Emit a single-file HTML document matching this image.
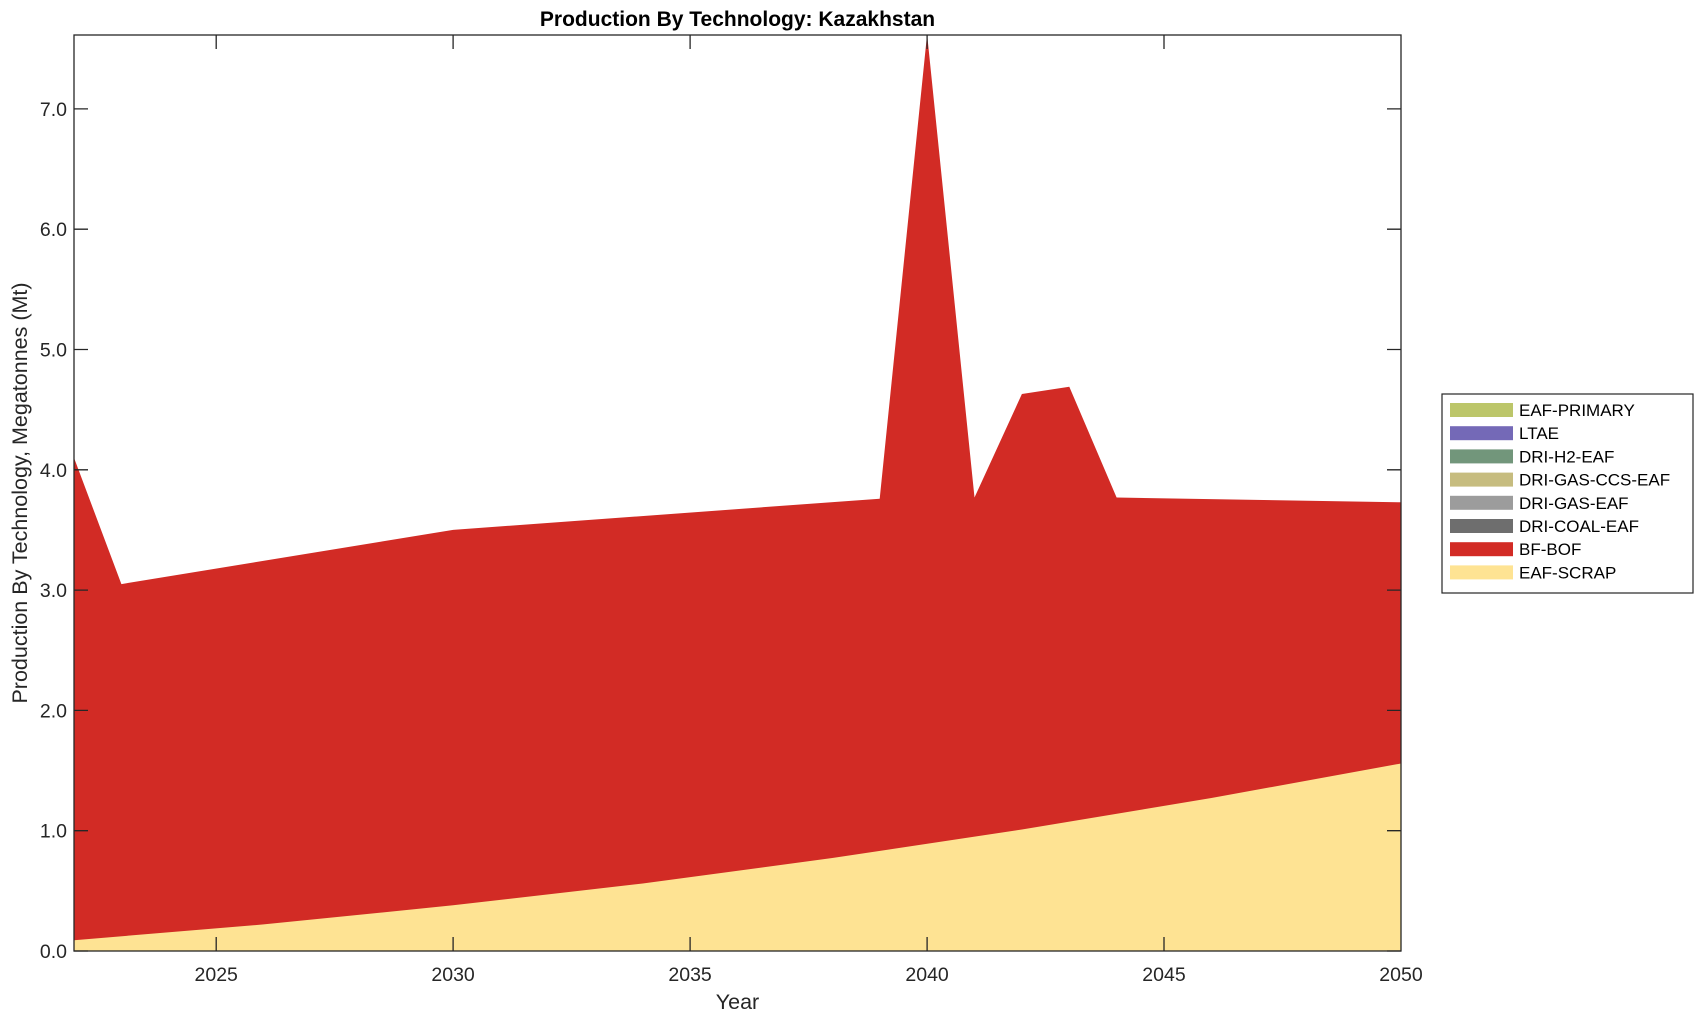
<!DOCTYPE html>
<html><head><meta charset="utf-8"><style>
html,body{margin:0;padding:0;background:#fff;}
svg{display:block;font-family:"Liberation Sans",Arial,sans-serif;}
</style></head><body>
<svg width="1703" height="1020" viewBox="0 0 1703 1020" xmlns="http://www.w3.org/2000/svg">
<rect width="1703" height="1020" fill="#fff"/>
<path d="M74,951 L74,457.8 L121.4,584.1 L453.1,529.9 L879.7,498.7 L927.1,34.3 L974.5,497.5 L1021.9,394 L1069.3,386.8 L1116.6,497.5 L1401,502.3 L1401,951 Z" fill="#d22b25"/>
<path d="M74,951 L74,940.2 L263.6,924.4 L453.1,905.3 L642.7,883.5 L832.3,858 L1021.9,829.5 L1211.4,798 L1401,763.5 L1401,951 Z" fill="#fee393"/>
<rect x="74" y="35" width="1327" height="916" fill="none" stroke="#262626" stroke-width="1.3"/>
<g stroke="#262626" stroke-width="1.3">
<path d="M74,951h14M74,830.7h14M74,710.4h14M74,590.1h14M74,469.8h14M74,349.5h14M74,229.2h14M74,108.9h14"/>
<path d="M1387,951h14M1387,830.7h14M1387,710.4h14M1387,590.1h14M1387,469.8h14M1387,349.5h14M1387,229.2h14M1387,108.9h14"/>
<path d="M216.2,951v-14M453.1,951v-14M690.1,951v-14M927.1,951v-14M1164,951v-14"/>
<path d="M216.2,35v14M453.1,35v14M690.1,35v14M927.1,35v14M1164,35v14"/>
</g>
<g font-size="19.5" fill="#262626" text-anchor="end">
<text x="67" y="958">0.0</text><text x="67" y="837.7">1.0</text><text x="67" y="717.4">2.0</text><text x="67" y="597.1">3.0</text><text x="67" y="476.8">4.0</text><text x="67" y="356.5">5.0</text><text x="67" y="236.2">6.0</text><text x="67" y="115.9">7.0</text>
</g>
<g font-size="19.5" fill="#262626" text-anchor="middle">
<text x="216.2" y="981">2025</text><text x="453.1" y="981">2030</text><text x="690.1" y="981">2035</text><text x="927.1" y="981">2040</text><text x="1164" y="981">2045</text><text x="1401" y="981">2050</text>
</g>
<text x="737.5" y="26" text-anchor="middle" font-size="21" font-weight="bold" fill="#000">Production By Technology: Kazakhstan</text>
<text x="737.5" y="1009" text-anchor="middle" font-size="21.5" fill="#262626">Year</text>
<text transform="translate(27,493) rotate(-90)" text-anchor="middle" font-size="21.5" fill="#262626">Production By Technology, Megatonnes (Mt)</text>
<rect x="1442" y="394" width="251" height="199" fill="#fff" stroke="#262626" stroke-width="1.2"/>
<g font-size="17" fill="#000">
<rect x="1450" y="403" width="63" height="14" fill="#bcc66a"/><text x="1519" y="416">EAF-PRIMARY</text>
<rect x="1450" y="426.2" width="63" height="14" fill="#7469b7"/><text x="1519" y="439.2">LTAE</text>
<rect x="1450" y="449.4" width="63" height="14" fill="#72967b"/><text x="1519" y="462.4">DRI-H2-EAF</text>
<rect x="1450" y="472.6" width="63" height="14" fill="#c6bc7f"/><text x="1519" y="485.6">DRI-GAS-CCS-EAF</text>
<rect x="1450" y="495.8" width="63" height="14" fill="#9c9c9c"/><text x="1519" y="508.8">DRI-GAS-EAF</text>
<rect x="1450" y="519" width="63" height="14" fill="#6e6e6e"/><text x="1519" y="532">DRI-COAL-EAF</text>
<rect x="1450" y="542.2" width="63" height="14" fill="#d22b25"/><text x="1519" y="555.2">BF-BOF</text>
<rect x="1450" y="565.4" width="63" height="14" fill="#fee393"/><text x="1519" y="578.4">EAF-SCRAP</text>
</g>
</svg>
</body></html>
